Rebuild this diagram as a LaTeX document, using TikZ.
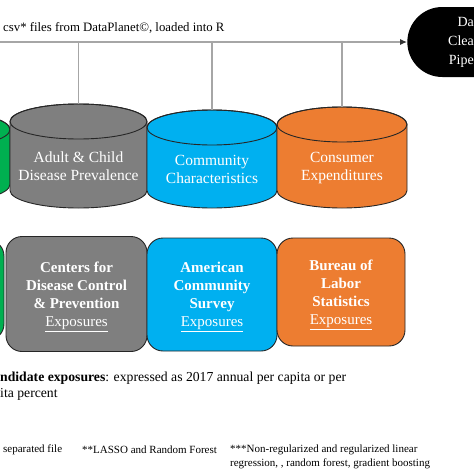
\documentclass[tikz,border=0pt]{standalone}
\usepackage{fontspec}
\setmainfont{Liberation Serif}
\usetikzlibrary{shapes.misc,arrows.meta}

\definecolor{srcgreen}{HTML}{00B050}
\definecolor{cdcgray}{HTML}{7F7F7F}
\definecolor{acsblue}{HTML}{00B0F0}
\definecolor{blsorange}{HTML}{ED7D31}
\definecolor{wiregray}{HTML}{A6A6A6}

\tikzset{
  drumline/.style={draw=black!85, line width=0.9pt},
  drumtext/.style={rectangle, text=white, align=center, inner sep=0pt,
    font=\fontsize{15.5}{18}\selectfont},
  agency/.style={rectangle, rounded corners=16pt, draw=black!85, line width=0.9pt,
    text=white, align=center, inner sep=0pt, font=\bfseries\fontsize{15}{18}\selectfont},
  tap/.style={draw=wiregray, line width=1.5pt},
  feed/.style={draw=wiregray, line width=1.5pt, -{Latex[length=7pt,width=6pt,color=black!80]}},
  note/.style={anchor=west, inner sep=0pt, align=left}
}

\def\capr{17.5}
% name, centre x, top, bottom, half width, colour, text
\newcommand{\drum}[7]{%
  \filldraw[drumline, fill=#6] (#2-#5,#3+\capr) -- (#2-#5,#4-\capr)
    arc[start angle=180, end angle=0, x radius=#5, y radius=\capr]
    -- (#2+#5,#3+\capr) arc[start angle=0, end angle=-180, x radius=#5, y radius=\capr] -- cycle;
  \draw[drumline] (#2,#3+\capr) ellipse[x radius=#5, y radius=\capr];
  \node[drumtext, minimum width={2*#5pt}, minimum height={(#4-#3)*1pt}] (#1) at (#2,{(#3+#4)/2})
    {\rule{0pt}{31pt}#7};
}

\begin{document}
\begin{tikzpicture}[x=1pt,y=-1pt]
\useasboundingbox (0,0) rectangle (474,474);
\clip (0,0) rectangle (474,474);
\fill[white] (0,0) rectangle (474,474);

\node[rounded rectangle, fill=black, text=white, minimum width=114pt, minimum height=70pt,
  align=right, font=\fontsize{14}{19}\selectfont] (clean) at (461,42) {Da\\Clea\\Pipe};
\coordinate (src) at (-80,42);
\draw[feed] (src) -- (clean.west);
\node[note, anchor=base west, font=\fontsize{12.8}{15}\selectfont] (srctext) at (3,31)
  {csv* files from DataPlanet\textcopyright, loaded into R};

\drum{green}{-55}{112}{202}{65}{srcgreen}{}
\drum{adult}{78.5}{104}{208}{68.5}{cdcgray}{Adult \& Child\\Disease Prevalence}
\drum{community}{212}{110}{208}{65}{acsblue}{Community\\Characteristics}
\drum{consumer}{342}{107}{208}{65}{blsorange}{Consumer\\Expenditures}

\coordinate (tapA) at (78.5,42);
\coordinate (tapB) at (212,42);
\coordinate (tapC) at (342,42);
\draw[tap] (tapA) -- (adult.north);
\draw[tap] (tapB) -- (community.north);
\draw[tap] (tapC) -- (consumer.north);

\node[agency, fill=srcgreen, minimum width=124pt, minimum height=100pt] (greenbox) at (-58,290) {};
\node[agency, fill=cdcgray, minimum width=141pt, minimum height=115pt] (cdc) at (76.5,294)
  {\rule{0pt}{16pt}Centers for\\Disease Control\\\& Prevention\\\textmd{\underline{Exposures}}};
\node[agency, fill=acsblue, minimum width=130pt, minimum height=113pt] (acs) at (212,294.5)
  {\rule{0pt}{16pt}American\\Community\\Survey\\\textmd{\underline{Exposures}}};
\node[agency, fill=blsorange, minimum width=128pt, minimum height=108pt] (bls) at (341,292)
  {\rule{0pt}{16pt}Bureau of\\Labor\\Statistics\\\textmd{\underline{Exposures}}};

\node[note, font=\fontsize{13.7}{16}\selectfont] (candidates) at (0,386)
  {\textbf{ndidate exposures}: expressed as 2017 annual per capita or per\\ita percent};

\node[note, font=\fontsize{11}{14}\selectfont] (fnA) at (3,450) {separated file};
\node[note, font=\fontsize{11}{14}\selectfont] (fnB) at (82,450) {**LASSO and Random Forest};
\node[note, font=\fontsize{11}{14}\selectfont] (fnC) at (230,457)
  {***Non-regularized and regularized linear\\regression, , random forest, gradient boosting};
\end{tikzpicture}
\end{document}
